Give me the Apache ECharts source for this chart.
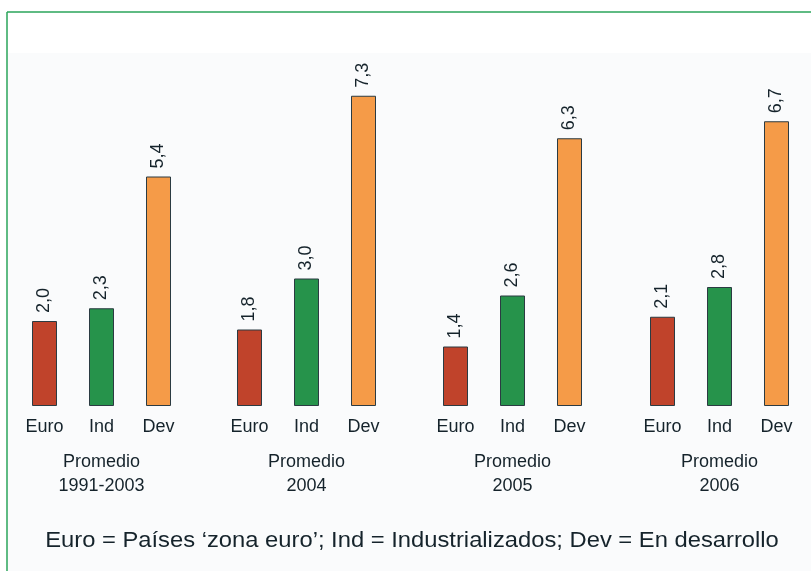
<!DOCTYPE html>
<html lang="es">
<head>
<meta charset="UTF-8">
<title>Promedio</title>
<script src="https://cdn.jsdelivr.net/npm/echarts@6/dist/echarts.min.js"></script>
<style>
  html, body { margin: 0; padding: 0; background: #ffffff; }
  #chart { width: 811px; height: 571px; }
</style>
</head>
<body>
<div id="chart"></div>
<script>
// datos
const categories = ['Euro', 'Ind', 'Dev'];
const periods = ['Promedio\n1991-2003', 'Promedio\n2004', 'Promedio\n2005', 'Promedio\n2006'];
const euroValues = [2.0, 1.8, 1.4, 2.1];
const indValues = [2.3, 3.0, 2.6, 2.8];
const devValues = [5.4, 7.3, 6.3, 6.7];
const barColors = ['#c0432b', '#26934b', '#f59b48'];
const footnote = 'Euro = Países ‘zona euro’; Ind = Industrializados; Dev = En desarrollo';

const font = 'Liberation Sans, Arial, sans-serif';
const textColor = '#15232b';
const gridLefts = [16, 221, 427, 634];

const chart = echarts.init(document.getElementById('chart'));

const grids = [], xAxes = [], yAxes = [], series = [];
periods.forEach(function (p, i) {
    grids.push({ left: gridLefts[i], width: 171, top: 66, bottom: 165 });
    xAxes.push({
        type: 'category', gridIndex: i, data: categories,
        axisLine: { show: false }, axisTick: { show: false },
        axisLabel: { color: textColor, fontSize: 18, fontFamily: font, margin: 12 },
        name: p, nameLocation: 'middle', nameGap: 44,
        nameTextStyle: { color: textColor, fontSize: 18, fontFamily: font, lineHeight: 24 }
    });
    yAxes.push({ type: 'value', gridIndex: i, min: 0, max: 8, show: false, splitLine: { show: false } });
    const vals = [euroValues[i], indValues[i], devValues[i]];
    series.push({
        type: 'bar', xAxisIndex: i, yAxisIndex: i, barWidth: 25,
        data: vals.map(function (v, k) {
            return { value: v, itemStyle: { color: barColors[k] } };
        }),
        itemStyle: { borderColor: '#2b3b42', borderWidth: 1 },
        label: {
            show: true, position: 'top', rotate: 90, align: 'left', verticalAlign: 'middle',
            distance: 8, color: textColor, fontSize: 18, fontFamily: font,
            formatter: function (d) { return d.value.toFixed(1).replace('.', ','); }
        }
    });
});

chart.setOption({
    backgroundColor: '#ffffff',
    animation: false,
    grid: grids,
    xAxis: xAxes,
    yAxis: yAxes,
    series: series,
    graphic: [
        { type: 'rect', z: -10, shape: { x: 8, y: 53, width: 803, height: 518 }, style: { fill: '#fafbfc' } },
        { type: 'line', shape: { x1: 7, y1: 12, x2: 811, y2: 12 }, style: { stroke: '#2aa55a', lineWidth: 1.5 } },
        { type: 'line', shape: { x1: 7, y1: 12, x2: 7, y2: 571 }, style: { stroke: '#2aa55a', lineWidth: 1.5 } },
        {
            type: 'text', x: 412, y: 541, scaleX: 1.08,
            style: { text: footnote, fill: textColor, font: '22px ' + font, align: 'center', verticalAlign: 'middle' }
        }
    ]
});
</script>
</body>
</html>
